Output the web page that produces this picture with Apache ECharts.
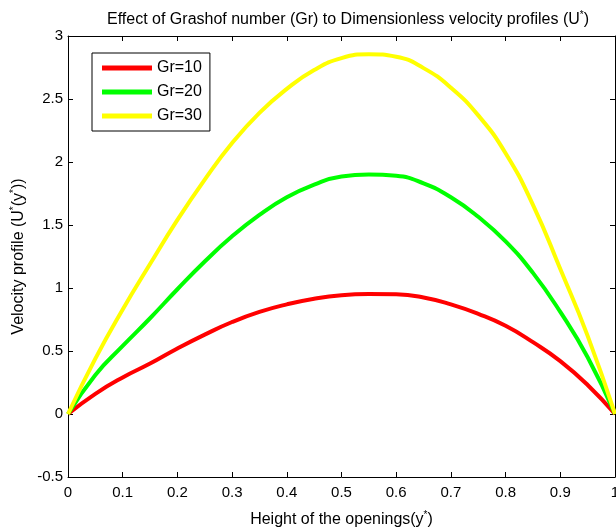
<!DOCTYPE html>
<html>
<head>
<meta charset="utf-8">
<script src="https://cdn.jsdelivr.net/npm/echarts@6/dist/echarts.min.js"></script>
<style>html,body{margin:0;padding:0;background:#fff}#c{width:616px;height:532px}</style>
</head>
<body>
<div id="c"></div>
<script>
var heights = [0,0.05,0.1,0.15,0.2,0.25,0.3,0.35,0.4,0.45,0.5,0.55,0.6,0.65,0.7,0.75,0.8,0.85,0.9,0.95,1];
var gr10 = [0,0.16,0.29,0.40,0.52,0.63,0.73,0.81,0.87,0.915,0.943,0.952,0.950,0.925,0.87,0.795,0.70,0.57,0.42,0.23,0];
var gr20 = [0,0.31,0.54,0.76,0.99,1.21,1.41,1.58,1.72,1.82,1.885,1.90,1.89,1.83,1.72,1.565,1.37,1.12,0.81,0.45,0];
var gr30 = [0,0.44,0.83,1.19,1.54,1.86,2.15,2.39,2.58,2.73,2.825,2.855,2.835,2.745,2.59,2.37,2.07,1.66,1.15,0.62,0];
var seriesNames = ['Gr=10','Gr=20','Gr=30'];
var seriesColors = ['#ff0000','#00ff00','#ffff00'];
var xTickLabels = ['0','0.1','0.2','0.3','0.4','0.5','0.6','0.7','0.8','0.9','1'];

function pairs(ys){ return heights.map(function(x,i){ return [x, ys[i]]; }); }
var F = 'Liberation Sans, Arial, sans-serif';
var chart = echarts.init(document.getElementById('c'));
function axisCommon(){ return {
  axisLine:{show:true,onZero:false,lineStyle:{color:'#000',width:1}},
  axisTick:{show:true,inside:true,length:5,lineStyle:{color:'#000'}},
  splitLine:{show:false}
};}
var rich = {a:{fontFamily:F,fontSize:16,color:'#000',fontWeight:'normal'},s:{fontFamily:F,fontSize:10,color:'#000',fontWeight:'normal',padding:[0,0,9,0]}};
chart.setOption({
  animation:false,
  backgroundColor:'#fff',
  title:{
    text:'{a|Effect of Grashof number (Gr) to Dimensionless velocity profiles (U}{s|*}{a|)}',
    left:343, top:5, textAlign:'center',
    textStyle:{fontWeight:'normal',rich:rich}
  },
  grid:{left:68,top:36,right:1,bottom:55,containLabel:false,outerBoundsMode:'none'},
  legend:{
    orient:'vertical', left:92, top:53,
    data:seriesNames,
    icon:'rect', itemWidth:50, itemHeight:5, itemGap:8,
    padding:[7,8,7,10],
    borderColor:'#000', borderWidth:1, backgroundColor:'#fff',
    textStyle:{fontFamily:F,fontSize:16,color:'#000',lineHeight:16}
  },
  xAxis:[
    Object.assign({type:'value',min:0,max:1,interval:0.1,position:'bottom',
      name:'{a|Height of the openings(y}{s|*}{a|)}',nameLocation:'middle',nameGap:33,
      nameTextStyle:{rich:rich},
      axisLabel:{fontFamily:F,fontSize:15,color:'#000',margin:8,formatter:function(v){var i=Math.round(v*10);return xTickLabels[i];}}
    },axisCommon()),
    Object.assign({type:'value',min:0,max:1,interval:0.1,position:'top',axisLabel:{show:false}},axisCommon())
  ],
  yAxis:[
    Object.assign({type:'value',min:-0.5,max:3,interval:0.5,position:'left',
      name:'{a|Velocity profile (U}{s|*}{a|(y}{s|*}{a|))}',nameLocation:'middle',nameGap:32,
      nameTextStyle:{rich:rich},
      axisLabel:{fontFamily:F,fontSize:15,color:'#000',margin:5}
    },axisCommon()),
    Object.assign({type:'value',min:-0.5,max:3,interval:0.5,position:'right',axisLabel:{show:false}},axisCommon())
  ],
  series:[0,1,2].map(function(k){
    return {
      name:seriesNames[k], type:'line', xAxisIndex:0, yAxisIndex:0,
      data:pairs([gr10,gr20,gr30][k]), showSymbol:false, smooth:0.5,
      lineStyle:{color:seriesColors[k],width:4}, itemStyle:{color:seriesColors[k]}
    };
  })
});
</script>
</body>
</html>
